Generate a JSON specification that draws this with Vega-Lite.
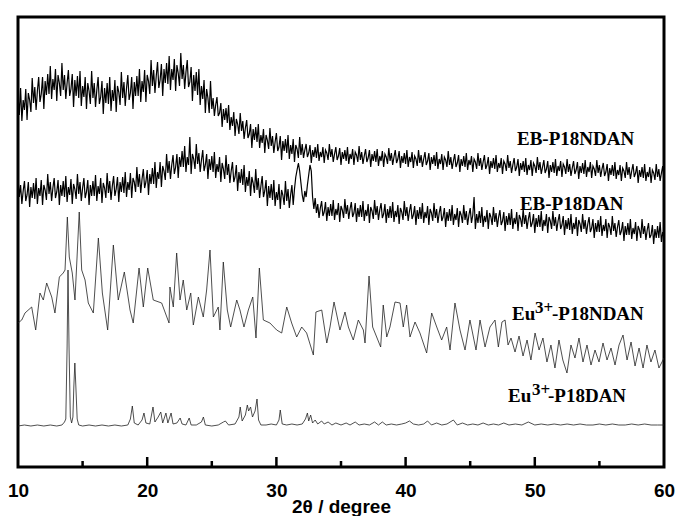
{
"$schema": "https://vega.github.io/schema/vega-lite/v6.json",
"width": 646, "height": 450,
"autosize": {"type": "none"},
"padding": {"left": 18, "top": 17, "right": 13, "bottom": 49},
"background": "white",
"config": {
  "view": {"stroke": "black", "strokeWidth": 3},
  "axis": {"domain": false, "grid": false}
},
"datasets": {
"eb": [
{"x":10.0,"a":372,"b":290},{"x":10.1,"a":352,"b":270},{"x":10.2,"a":379,"b":282},{"x":10.3,"a":346,"b":263},{"x":10.4,"a":367,"b":276},{"x":10.5,"a":357,"b":286},{"x":10.6,"a":378,"b":266},{"x":10.7,"a":347,"b":272},{"x":10.8,"a":374,"b":285},{"x":10.9,"a":367,"b":260},{"x":11.0,"a":355,"b":280},{"x":11.1,"a":389,"b":269},{"x":11.2,"a":364,"b":284},{"x":11.3,"a":380,"b":268},{"x":11.4,"a":357,"b":289},{"x":11.5,"a":376,"b":263},{"x":11.6,"a":390,"b":279},{"x":11.7,"a":365,"b":271},{"x":11.8,"a":373,"b":287},{"x":11.9,"a":390,"b":262},{"x":12.0,"a":358,"b":282},{"x":12.1,"a":386,"b":277},{"x":12.2,"a":372,"b":267},
{"x":12.3,"a":393,"b":293},{"x":12.4,"a":373,"b":273},{"x":12.5,"a":401,"b":285},{"x":12.6,"a":368,"b":266},{"x":12.7,"a":388,"b":279},{"x":12.8,"a":377,"b":289},{"x":12.9,"a":398,"b":269},{"x":13.0,"a":366,"b":275},{"x":13.1,"a":392,"b":287},{"x":13.2,"a":384,"b":262},{"x":13.3,"a":371,"b":282},{"x":13.4,"a":404,"b":271},{"x":13.5,"a":377,"b":286},{"x":13.6,"a":392,"b":270},{"x":13.7,"a":368,"b":291},{"x":13.8,"a":384,"b":265},{"x":13.9,"a":397,"b":280},{"x":14.0,"a":371,"b":272},{"x":14.1,"a":378,"b":288},{"x":14.2,"a":393,"b":263},{"x":14.3,"a":360,"b":283},{"x":14.4,"a":387,"b":278},{"x":14.5,"a":371,"b":268},
{"x":14.6,"a":391,"b":293},{"x":14.7,"a":369,"b":273},{"x":14.8,"a":396,"b":285},{"x":14.9,"a":361,"b":266},{"x":15.0,"a":381,"b":279},{"x":15.1,"a":370,"b":289},{"x":15.2,"a":390,"b":269},{"x":15.3,"a":358,"b":275},{"x":15.4,"a":384,"b":287},{"x":15.5,"a":376,"b":262},{"x":15.6,"a":363,"b":282},{"x":15.7,"a":396,"b":271},{"x":15.8,"a":369,"b":286},{"x":15.9,"a":384,"b":271},{"x":16.0,"a":360,"b":292},{"x":16.1,"a":377,"b":266},{"x":16.2,"a":390,"b":281},{"x":16.3,"a":363,"b":273},{"x":16.4,"a":370,"b":289},{"x":16.5,"a":386,"b":264},{"x":16.6,"a":353,"b":284},{"x":16.7,"a":379,"b":279},{"x":16.8,"a":364,"b":269},
{"x":16.9,"a":384,"b":294},{"x":17.0,"a":363,"b":274},{"x":17.1,"a":390,"b":286},{"x":17.2,"a":356,"b":267},{"x":17.3,"a":377,"b":281},{"x":17.4,"a":366,"b":291},{"x":17.5,"a":387,"b":271},{"x":17.6,"a":355,"b":278},{"x":17.7,"a":381,"b":290},{"x":17.8,"a":375,"b":265},{"x":17.9,"a":362,"b":285},{"x":18.0,"a":395,"b":275},{"x":18.1,"a":369,"b":290},{"x":18.2,"a":385,"b":274},{"x":18.3,"a":361,"b":295},{"x":18.4,"a":379,"b":270},{"x":18.5,"a":392,"b":285},{"x":18.6,"a":367,"b":277},{"x":18.7,"a":374,"b":294},{"x":18.8,"a":390,"b":269},{"x":18.9,"a":358,"b":289},{"x":19.0,"a":385,"b":285},{"x":19.1,"a":371,"b":275},
{"x":19.2,"a":391,"b":300},{"x":19.3,"a":371,"b":280},{"x":19.4,"a":398,"b":293},{"x":19.5,"a":365,"b":274},{"x":19.6,"a":386,"b":288},{"x":19.7,"a":375,"b":298},{"x":19.8,"a":397,"b":279},{"x":19.9,"a":365,"b":285},{"x":20.0,"a":392,"b":297},{"x":20.1,"a":386,"b":272},{"x":20.2,"a":373,"b":293},{"x":20.3,"a":407,"b":283},{"x":20.4,"a":381,"b":299},{"x":20.5,"a":397,"b":283},{"x":20.6,"a":374,"b":305},{"x":20.7,"a":391,"b":279},{"x":20.8,"a":405,"b":295},{"x":20.9,"a":379,"b":288},{"x":21.0,"a":387,"b":305},{"x":21.1,"a":403,"b":280},{"x":21.2,"a":371,"b":301},{"x":21.3,"a":398,"b":296},{"x":21.4,"a":384,"b":287},
{"x":21.5,"a":404,"b":313},{"x":21.6,"a":383,"b":294},{"x":21.7,"a":411,"b":306},{"x":21.8,"a":377,"b":288},{"x":21.9,"a":398,"b":302},{"x":22.0,"a":387,"b":312},{"x":22.1,"a":408,"b":293},{"x":22.2,"a":376,"b":300},{"x":22.3,"a":402,"b":313},{"x":22.4,"a":394,"b":289},{"x":22.5,"a":381,"b":310},{"x":22.6,"a":414,"b":300},{"x":22.7,"a":388,"b":316},{"x":22.8,"a":402,"b":300},{"x":22.9,"a":378,"b":321},{"x":23.0,"a":395,"b":295},{"x":23.1,"a":407,"b":310},{"x":23.2,"a":380,"b":302},{"x":23.3,"a":385,"b":330},{"x":23.4,"a":400,"b":293},{"x":23.5,"a":366,"b":313},{"x":23.6,"a":392,"b":308},{"x":23.7,"a":376,"b":298},
{"x":23.8,"a":395,"b":323},{"x":23.9,"a":372,"b":303},{"x":24.0,"a":398,"b":314},{"x":24.1,"a":362,"b":295},{"x":24.2,"a":381,"b":307},{"x":24.3,"a":368,"b":317},{"x":24.4,"a":387,"b":296},{"x":24.5,"a":354,"b":302},{"x":24.6,"a":378,"b":313},{"x":24.7,"a":369,"b":288},{"x":24.8,"a":354,"b":308},{"x":24.9,"a":386,"b":297},{"x":25.0,"a":358,"b":311},{"x":25.1,"a":369,"b":295},{"x":25.2,"a":351,"b":315},{"x":25.3,"a":362,"b":289},{"x":25.4,"a":370,"b":303},{"x":25.5,"a":351,"b":295},{"x":25.6,"a":354,"b":310},{"x":25.7,"a":364,"b":285},{"x":25.8,"a":340,"b":304},{"x":25.9,"a":358,"b":298},{"x":26.0,"a":347,"b":288},
{"x":26.1,"a":359,"b":312},{"x":26.2,"a":344,"b":292},{"x":26.3,"a":362,"b":303},{"x":26.4,"a":337,"b":284},{"x":26.5,"a":350,"b":296},{"x":26.6,"a":341,"b":305},{"x":26.7,"a":355,"b":285},{"x":26.8,"a":331,"b":290},{"x":26.9,"a":348,"b":302},{"x":27.0,"a":343,"b":276},{"x":27.1,"a":333,"b":295},{"x":27.2,"a":354,"b":284},{"x":27.3,"a":336,"b":298},{"x":27.4,"a":346,"b":282},{"x":27.5,"a":328,"b":302},{"x":27.6,"a":339,"b":275},{"x":27.7,"a":347,"b":290},{"x":27.8,"a":329,"b":281},{"x":27.9,"a":333,"b":296},{"x":28.0,"a":343,"b":271},{"x":28.1,"a":319,"b":290},{"x":28.2,"a":338,"b":284},{"x":28.3,"a":327,"b":274},
{"x":28.4,"a":340,"b":298},{"x":28.5,"a":325,"b":277},{"x":28.6,"a":343,"b":289},{"x":28.7,"a":319,"b":269},{"x":28.8,"a":332,"b":281},{"x":28.9,"a":324,"b":291},{"x":29.0,"a":338,"b":270},{"x":29.1,"a":314,"b":276},{"x":29.2,"a":332,"b":287},{"x":29.3,"a":327,"b":261},{"x":29.4,"a":318,"b":281},{"x":29.5,"a":339,"b":269},{"x":29.6,"a":321,"b":283},{"x":29.7,"a":331,"b":267},{"x":29.8,"a":314,"b":287},{"x":29.9,"a":325,"b":261},{"x":30.0,"a":334,"b":275},{"x":30.1,"a":316,"b":267},{"x":30.2,"a":320,"b":283},{"x":30.3,"a":331,"b":258},{"x":30.4,"a":307,"b":277},{"x":30.5,"a":326,"b":272},{"x":30.6,"a":316,"b":262},
{"x":30.7,"a":328,"b":286},{"x":30.8,"a":314,"b":266},{"x":30.9,"a":332,"b":278},{"x":31.0,"a":308,"b":259},{"x":31.1,"a":322,"b":272},{"x":31.2,"a":313,"b":282},{"x":31.3,"a":328,"b":262},{"x":31.4,"a":305,"b":278},{"x":31.5,"a":322,"b":290},{"x":31.6,"a":318,"b":297},{"x":31.7,"a":309,"b":304},{"x":31.8,"a":330,"b":296},{"x":31.9,"a":312,"b":284},{"x":32.0,"a":323,"b":272},{"x":32.1,"a":309,"b":265},{"x":32.2,"a":317,"b":276},{"x":32.3,"a":323,"b":270},{"x":32.4,"a":310,"b":282},{"x":32.5,"a":314,"b":292},{"x":32.6,"a":322,"b":302},{"x":32.7,"a":304,"b":296},{"x":32.8,"a":317,"b":270},{"x":32.9,"a":310,"b":258},
{"x":33.0,"a":320,"b":269},{"x":33.1,"a":309,"b":254},{"x":33.2,"a":323,"b":263},{"x":33.3,"a":306,"b":249},{"x":33.4,"a":315,"b":259},{"x":33.5,"a":310,"b":266},{"x":33.6,"a":320,"b":251},{"x":33.7,"a":304,"b":255},{"x":33.8,"a":317,"b":265},{"x":33.9,"a":314,"b":246},{"x":34.0,"a":307,"b":260},{"x":34.1,"a":323,"b":251},{"x":34.2,"a":310,"b":263},{"x":34.3,"a":318,"b":251},{"x":34.4,"a":305,"b":267},{"x":34.5,"a":313,"b":247},{"x":34.6,"a":320,"b":258},{"x":34.7,"a":307,"b":252},{"x":34.8,"a":311,"b":264},{"x":34.9,"a":319,"b":245},{"x":35.0,"a":302,"b":261},{"x":35.1,"a":315,"b":257},{"x":35.2,"a":308,"b":249},
{"x":35.3,"a":317,"b":268},{"x":35.4,"a":306,"b":253},{"x":35.5,"a":320,"b":262},{"x":35.6,"a":303,"b":248},{"x":35.7,"a":313,"b":258},{"x":35.8,"a":308,"b":265},{"x":35.9,"a":318,"b":250},{"x":36.0,"a":302,"b":254},{"x":36.1,"a":315,"b":264},{"x":36.2,"a":312,"b":245},{"x":36.3,"a":305,"b":259},{"x":36.4,"a":321,"b":250},{"x":36.5,"a":307,"b":262},{"x":36.6,"a":315,"b":250},{"x":36.7,"a":303,"b":266},{"x":36.8,"a":311,"b":246},{"x":36.9,"a":318,"b":257},{"x":37.0,"a":305,"b":251},{"x":37.1,"a":309,"b":263},{"x":37.2,"a":317,"b":244},{"x":37.3,"a":300,"b":260},{"x":37.4,"a":313,"b":256},{"x":37.5,"a":306,"b":248},
{"x":37.6,"a":316,"b":267},{"x":37.7,"a":305,"b":252},{"x":37.8,"a":318,"b":261},{"x":37.9,"a":301,"b":247},{"x":38.0,"a":311,"b":257},{"x":38.1,"a":306,"b":264},{"x":38.2,"a":316,"b":249},{"x":38.3,"a":300,"b":253},{"x":38.4,"a":313,"b":263},{"x":38.5,"a":310,"b":244},{"x":38.6,"a":303,"b":258},{"x":38.7,"a":319,"b":249},{"x":38.8,"a":306,"b":261},{"x":38.9,"a":314,"b":249},{"x":39.0,"a":302,"b":265},{"x":39.1,"a":310,"b":245},{"x":39.2,"a":317,"b":256},{"x":39.3,"a":304,"b":250},{"x":39.4,"a":308,"b":262},{"x":39.5,"a":316,"b":243},{"x":39.6,"a":299,"b":259},{"x":39.7,"a":311,"b":255},{"x":39.8,"a":304,"b":247},
{"x":39.9,"a":314,"b":266},{"x":40.0,"a":303,"b":251},{"x":40.1,"a":317,"b":260},{"x":40.2,"a":300,"b":246},{"x":40.3,"a":310,"b":256},{"x":40.4,"a":305,"b":263},{"x":40.5,"a":315,"b":248},{"x":40.6,"a":299,"b":252},{"x":40.7,"a":311,"b":261},{"x":40.8,"a":308,"b":242},{"x":40.9,"a":301,"b":257},{"x":41.0,"a":317,"b":248},{"x":41.1,"a":304,"b":260},{"x":41.2,"a":312,"b":248},{"x":41.3,"a":300,"b":264},{"x":41.4,"a":308,"b":244},{"x":41.5,"a":315,"b":255},{"x":41.6,"a":302,"b":249},{"x":41.7,"a":306,"b":261},{"x":41.8,"a":314,"b":242},{"x":41.9,"a":297,"b":258},{"x":42.0,"a":310,"b":254},{"x":42.1,"a":303,"b":246},
{"x":42.2,"a":312,"b":264},{"x":42.3,"a":301,"b":249},{"x":42.4,"a":315,"b":258},{"x":42.5,"a":298,"b":244},{"x":42.6,"a":308,"b":254},{"x":42.7,"a":303,"b":261},{"x":42.8,"a":313,"b":246},{"x":42.9,"a":297,"b":250},{"x":43.0,"a":310,"b":259},{"x":43.1,"a":307,"b":240},{"x":43.2,"a":300,"b":255},{"x":43.3,"a":316,"b":246},{"x":43.4,"a":302,"b":258},{"x":43.5,"a":310,"b":246},{"x":43.6,"a":298,"b":262},{"x":43.7,"a":306,"b":242},{"x":43.8,"a":313,"b":253},{"x":43.9,"a":300,"b":247},{"x":44.0,"a":304,"b":259},{"x":44.1,"a":312,"b":240},{"x":44.2,"a":295,"b":256},{"x":44.3,"a":308,"b":252},{"x":44.4,"a":301,"b":244},
{"x":44.5,"a":311,"b":262},{"x":44.6,"a":300,"b":247},{"x":44.7,"a":314,"b":256},{"x":44.8,"a":297,"b":242},{"x":44.9,"a":307,"b":252},{"x":45.0,"a":302,"b":259},{"x":45.1,"a":311,"b":244},{"x":45.2,"a":295,"b":252},{"x":45.3,"a":308,"b":270},{"x":45.4,"a":305,"b":238},{"x":45.5,"a":298,"b":253},{"x":45.6,"a":314,"b":244},{"x":45.7,"a":301,"b":256},{"x":45.8,"a":309,"b":244},{"x":45.9,"a":297,"b":260},{"x":46.0,"a":305,"b":240},{"x":46.1,"a":312,"b":251},{"x":46.2,"a":298,"b":245},{"x":46.3,"a":302,"b":257},{"x":46.4,"a":310,"b":238},{"x":46.5,"a":293,"b":254},{"x":46.6,"a":306,"b":250},{"x":46.7,"a":299,"b":242},
{"x":46.8,"a":309,"b":260},{"x":46.9,"a":298,"b":245},{"x":47.0,"a":312,"b":254},{"x":47.1,"a":295,"b":240},{"x":47.2,"a":304,"b":250},{"x":47.3,"a":299,"b":257},{"x":47.4,"a":309,"b":242},{"x":47.5,"a":293,"b":246},{"x":47.6,"a":306,"b":255},{"x":47.7,"a":303,"b":236},{"x":47.8,"a":296,"b":251},{"x":47.9,"a":312,"b":242},{"x":48.0,"a":299,"b":254},{"x":48.1,"a":306,"b":242},{"x":48.2,"a":294,"b":258},{"x":48.3,"a":302,"b":238},{"x":48.4,"a":309,"b":249},{"x":48.5,"a":296,"b":243},{"x":48.6,"a":300,"b":255},{"x":48.7,"a":308,"b":236},{"x":48.8,"a":291,"b":252},{"x":48.9,"a":304,"b":248},{"x":49.0,"a":297,"b":240},
{"x":49.1,"a":306,"b":258},{"x":49.2,"a":295,"b":243},{"x":49.3,"a":309,"b":252},{"x":49.4,"a":292,"b":238},{"x":49.5,"a":302,"b":248},{"x":49.6,"a":297,"b":255},{"x":49.7,"a":307,"b":240},{"x":49.8,"a":291,"b":244},{"x":49.9,"a":304,"b":253},{"x":50.0,"a":301,"b":234},{"x":50.1,"a":294,"b":249},{"x":50.2,"a":310,"b":240},{"x":50.3,"a":297,"b":252},{"x":50.4,"a":305,"b":240},{"x":50.5,"a":293,"b":256},{"x":50.6,"a":300,"b":236},{"x":50.7,"a":307,"b":247},{"x":50.8,"a":294,"b":241},{"x":50.9,"a":298,"b":253},{"x":51.0,"a":306,"b":234},{"x":51.1,"a":289,"b":250},{"x":51.2,"a":302,"b":246},{"x":51.3,"a":295,"b":238},
{"x":51.4,"a":305,"b":256},{"x":51.5,"a":294,"b":241},{"x":51.6,"a":308,"b":250},{"x":51.7,"a":291,"b":236},{"x":51.8,"a":301,"b":246},{"x":51.9,"a":296,"b":253},{"x":52.0,"a":306,"b":238},{"x":52.1,"a":290,"b":242},{"x":52.2,"a":303,"b":251},{"x":52.3,"a":300,"b":232},{"x":52.4,"a":293,"b":247},{"x":52.5,"a":308,"b":238},{"x":52.6,"a":295,"b":249},{"x":52.7,"a":303,"b":237},{"x":52.8,"a":291,"b":253},{"x":52.9,"a":299,"b":233},{"x":53.0,"a":306,"b":244},{"x":53.1,"a":293,"b":238},{"x":53.2,"a":297,"b":250},{"x":53.3,"a":305,"b":231},{"x":53.4,"a":288,"b":247},{"x":53.5,"a":301,"b":243},{"x":53.6,"a":294,"b":235},
{"x":53.7,"a":304,"b":253},{"x":53.8,"a":293,"b":238},{"x":53.9,"a":307,"b":247},{"x":54.0,"a":290,"b":233},{"x":54.1,"a":300,"b":243},{"x":54.2,"a":295,"b":250},{"x":54.3,"a":305,"b":235},{"x":54.4,"a":289,"b":239},{"x":54.5,"a":301,"b":248},{"x":54.6,"a":298,"b":229},{"x":54.7,"a":291,"b":244},{"x":54.8,"a":307,"b":235},{"x":54.9,"a":294,"b":247},{"x":55.0,"a":302,"b":235},{"x":55.1,"a":290,"b":251},{"x":55.2,"a":298,"b":231},{"x":55.3,"a":304,"b":242},{"x":55.4,"a":291,"b":236},{"x":55.5,"a":295,"b":248},{"x":55.6,"a":303,"b":229},{"x":55.7,"a":286,"b":244},{"x":55.8,"a":299,"b":240},{"x":55.9,"a":292,"b":232},
{"x":56.0,"a":302,"b":251},{"x":56.1,"a":291,"b":236},{"x":56.2,"a":305,"b":244},{"x":56.3,"a":288,"b":230},{"x":56.4,"a":297,"b":240},{"x":56.5,"a":292,"b":247},{"x":56.6,"a":302,"b":232},{"x":56.7,"a":286,"b":236},{"x":56.8,"a":299,"b":245},{"x":56.9,"a":296,"b":226},{"x":57.0,"a":289,"b":241},{"x":57.1,"a":305,"b":232},{"x":57.2,"a":292,"b":244},{"x":57.3,"a":300,"b":232},{"x":57.4,"a":288,"b":248},{"x":57.5,"a":296,"b":228},{"x":57.6,"a":303,"b":239},{"x":57.7,"a":290,"b":233},{"x":57.8,"a":294,"b":245},{"x":57.9,"a":301,"b":226},{"x":58.0,"a":284,"b":241},{"x":58.1,"a":297,"b":237},{"x":58.2,"a":290,"b":229},
{"x":58.3,"a":300,"b":248},{"x":58.4,"a":289,"b":233},{"x":58.5,"a":303,"b":241},{"x":58.6,"a":286,"b":227},{"x":58.7,"a":295,"b":237},{"x":58.8,"a":290,"b":244},{"x":58.9,"a":300,"b":229},{"x":59.0,"a":284,"b":232},{"x":59.1,"a":297,"b":242},{"x":59.2,"a":294,"b":223},{"x":59.3,"a":287,"b":238},{"x":59.4,"a":303,"b":229},{"x":59.5,"a":290,"b":241},{"x":59.6,"a":298,"b":229},{"x":59.7,"a":286,"b":245},{"x":59.8,"a":294,"b":225},{"x":59.9,"a":301,"b":235},{"x":60.0,"a":287,"b":229}
],
"t3": [{"x":10,"y":144},{"x":10.29,"y":147},{"x":10.54,"y":154},{"x":11.06,"y":160},{"x":11.37,"y":137},{"x":11.7,"y":174},{"x":11.96,"y":167},{"x":12.22,"y":184},{"x":12.61,"y":170},{"x":12.86,"y":154},{"x":13.2,"y":190},{"x":13.5,"y":194},{"x":13.64,"y":197},{"x":13.82,"y":250},{"x":13.97,"y":210},{"x":14.2,"y":194},{"x":14.41,"y":167},{"x":14.74,"y":255},{"x":14.93,"y":197},{"x":15.19,"y":187},{"x":15.44,"y":164},{"x":15.83,"y":154},{"x":16.22,"y":229},{"x":16.53,"y":174},{"x":16.94,"y":137},{"x":17.38,"y":222},{"x":17.76,"y":167},{"x":18.23,"y":195},{"x":18.67,"y":157},{"x":18.92,"y":144},{"x":19.37,"y":199},{"x":19.7,"y":160},{"x":20.04,"y":199},{"x":20.47,"y":167},{"x":21.12,"y":164},{"x":21.69,"y":144},{"x":21.76,"y":180},{"x":22.02,"y":160},{"x":22.28,"y":214},{"x":22.54,"y":167},{"x":22.79,"y":187},{"x":23.06,"y":157},{"x":23.37,"y":174},{"x":23.57,"y":142},{"x":23.96,"y":170},{"x":24.34,"y":150},{"x":24.6,"y":177},{"x":24.86,"y":217},{"x":25.12,"y":150},{"x":25.5,"y":160},{"x":25.63,"y":137},{"x":25.89,"y":205},{"x":26.2,"y":157},{"x":26.46,"y":140},{"x":26.93,"y":167},{"x":27.18,"y":157},{"x":27.49,"y":140},{"x":27.83,"y":157},{"x":28.17,"y":170},{"x":28.42,"y":129},{"x":28.68,"y":199},{"x":28.99,"y":147},{"x":29.5,"y":144},{"x":30.02,"y":137},{"x":30.41,"y":134},{"x":30.8,"y":160},{"x":31.18,"y":144},{"x":31.57,"y":130},{"x":31.96,"y":140},{"x":32.34,"y":134},{"x":32.86,"y":112},{"x":33.06,"y":155},{"x":33.51,"y":157},{"x":33.9,"y":124},{"x":34.15,"y":140},{"x":34.46,"y":165},{"x":34.92,"y":137},{"x":35.31,"y":155},{"x":35.57,"y":140},{"x":35.95,"y":127},{"x":36.34,"y":147},{"x":36.73,"y":137},{"x":36.86,"y":124},{"x":37.17,"y":191},{"x":37.45,"y":140},{"x":37.76,"y":130},{"x":38.07,"y":120},{"x":38.27,"y":162},{"x":38.54,"y":130},{"x":38.79,"y":140},{"x":39.18,"y":165},{"x":39.57,"y":164},{"x":39.82,"y":140},{"x":40.08,"y":162},{"x":40.34,"y":130},{"x":40.73,"y":145},{"x":41.11,"y":134},{"x":41.63,"y":114},{"x":42.02,"y":154},{"x":42.41,"y":140},{"x":42.79,"y":127},{"x":43.18,"y":140},{"x":43.44,"y":117},{"x":43.82,"y":164},{"x":44.21,"y":137},{"x":44.6,"y":117},{"x":44.98,"y":147},{"x":45.45,"y":117},{"x":45.76,"y":147},{"x":46.15,"y":120},{"x":46.53,"y":140},{"x":46.92,"y":147},{"x":47.18,"y":120},{"x":47.46,"y":145},{"x":47.7,"y":147},{"x":47.93,"y":122},{"x":48.16,"y":129},{"x":48.47,"y":115},{"x":48.78,"y":131},{"x":49.09,"y":111},{"x":49.4,"y":127},{"x":49.7,"y":107},{"x":50.02,"y":134},{"x":50.33,"y":117},{"x":50.63,"y":129},{"x":50.94,"y":105},{"x":51.25,"y":122},{"x":51.56,"y":99},{"x":51.87,"y":127},{"x":52.17,"y":107},{"x":52.49,"y":94},{"x":52.8,"y":122},{"x":53.11,"y":109},{"x":53.42,"y":129},{"x":53.73,"y":105},{"x":54.04,"y":122},{"x":54.35,"y":102},{"x":54.66,"y":117},{"x":54.97,"y":105},{"x":55.28,"y":124},{"x":55.59,"y":107},{"x":55.9,"y":119},{"x":56.21,"y":102},{"x":56.52,"y":122},{"x":56.83,"y":132},{"x":57.14,"y":107},{"x":57.45,"y":125},{"x":57.76,"y":101},{"x":58.07,"y":119},{"x":58.38,"y":99},{"x":58.68,"y":122},{"x":58.99,"y":105},{"x":59.3,"y":117},{"x":59.61,"y":99},{"x":60,"y":109}],
"t4": [{"x":10,"y":41},{"x":10.5,"y":42},{"x":11,"y":41},{"x":11.5,"y":42},{"x":12,"y":41},{"x":12.5,"y":42},{"x":13,"y":41},{"x":13.4,"y":42},{"x":13.6,"y":45},{"x":13.7,"y":48},{"x":13.8,"y":120},{"x":13.87,"y":197},{"x":13.95,"y":120},{"x":14.05,"y":50},{"x":14.15,"y":44},{"x":14.25,"y":50},{"x":14.32,"y":80},{"x":14.4,"y":104},{"x":14.48,"y":80},{"x":14.58,"y":48},{"x":14.7,"y":42},{"x":15,"y":41},{"x":15.5,"y":42},{"x":16,"y":41},{"x":16.5,"y":42},{"x":17,"y":41},{"x":17.5,"y":42},{"x":18,"y":41},{"x":18.5,"y":42},{"x":18.7,"y":48},{"x":18.85,"y":61},{"x":19,"y":44},{"x":19.3,"y":42},{"x":19.6,"y":47},{"x":19.75,"y":54},{"x":19.9,"y":44},{"x":20.2,"y":43},{"x":20.45,"y":60},{"x":20.6,"y":45},{"x":20.85,"y":50},{"x":21.05,"y":55},{"x":21.2,"y":44},{"x":21.45,"y":54},{"x":21.6,"y":44},{"x":21.85,"y":54},{"x":22,"y":43},{"x":22.3,"y":44},{"x":22.55,"y":49},{"x":22.7,"y":43},{"x":23,"y":42},{"x":23.25,"y":49},{"x":23.4,"y":42},{"x":23.8,"y":42},{"x":24.2,"y":45},{"x":24.35,"y":50},{"x":24.5,"y":42},{"x":25,"y":41},{"x":25.5,"y":42},{"x":25.9,"y":45},{"x":26.05,"y":46},{"x":26.3,"y":42},{"x":26.8,"y":43},{"x":27.1,"y":50},{"x":27.2,"y":60},{"x":27.35,"y":46},{"x":27.6,"y":52},{"x":27.75,"y":62},{"x":27.85,"y":56},{"x":28,"y":60},{"x":28.15,"y":50},{"x":28.35,"y":56},{"x":28.5,"y":68},{"x":28.62,"y":47},{"x":28.8,"y":42},{"x":29.2,"y":42},{"x":29.6,"y":43},{"x":30,"y":42},{"x":30.2,"y":47},{"x":30.3,"y":57},{"x":30.45,"y":43},{"x":30.8,"y":42},{"x":31.2,"y":43},{"x":31.6,"y":42},{"x":32,"y":43},{"x":32.25,"y":48},{"x":32.4,"y":54},{"x":32.5,"y":46},{"x":32.65,"y":52},{"x":32.8,"y":44},{"x":33,"y":47},{"x":33.2,"y":43},{"x":33.5,"y":46},{"x":33.7,"y":43},{"x":34,"y":45},{"x":34.3,"y":42},{"x":34.6,"y":44},{"x":35,"y":42},{"x":35.4,"y":44},{"x":35.7,"y":42},{"x":36.1,"y":45},{"x":36.4,"y":42},{"x":36.8,"y":43},{"x":37.2,"y":42},{"x":37.6,"y":45},{"x":37.9,"y":42},{"x":38.2,"y":45},{"x":38.5,"y":42},{"x":38.9,"y":43},{"x":39.3,"y":42},{"x":39.7,"y":43},{"x":40,"y":44},{"x":40.3,"y":46},{"x":40.6,"y":43},{"x":41,"y":42},{"x":41.4,"y":43},{"x":41.7,"y":46},{"x":42,"y":42},{"x":42.4,"y":44},{"x":42.8,"y":42},{"x":43.2,"y":43},{"x":43.7,"y":47},{"x":44,"y":42},{"x":44.4,"y":44},{"x":44.8,"y":42},{"x":45.2,"y":43},{"x":45.6,"y":42},{"x":46,"y":44},{"x":46.4,"y":42},{"x":46.8,"y":43},{"x":47.2,"y":42},{"x":47.6,"y":44},{"x":48,"y":42},{"x":48.5,"y":43},{"x":49,"y":42},{"x":49.5,"y":45},{"x":50,"y":42},{"x":50.5,"y":43},{"x":51,"y":42},{"x":51.5,"y":43},{"x":52,"y":42},{"x":52.5,"y":43},{"x":53,"y":42},{"x":53.5,"y":43},{"x":54,"y":42},{"x":54.5,"y":42},{"x":55,"y":43},{"x":55.5,"y":42},{"x":56,"y":43},{"x":56.5,"y":42},{"x":57,"y":42},{"x":57.5,"y":43},{"x":58,"y":42},{"x":58.5,"y":43},{"x":59,"y":42},{"x":59.5,"y":42},{"x":60,"y":42}],
"major": [{"x":20},{"x":30},{"x":40},{"x":50}],
"minor": [{"x":15},{"x":25},{"x":35},{"x":45},{"x":55}],
"labels": [{"x":48.62,"y":322,"t":"EB-P18NDAN"},{"x":48.85,"y":257,"t":"EB-P18DAN"},{"x":48.24,"y":147,"t":"Eu"},{"x":51.33,"y":147,"t":"-P18NDAN"},{"x":47.93,"y":65,"t":"Eu"},{"x":51.02,"y":65,"t":"-P18DAN"}],
"sups": [{"x":50.02,"y":154,"t":"3+"},{"x":49.78,"y":72,"t":"3+"}]
},
"layer": [
  {"data": {"name": "eb"}, "mark": {"type": "line", "stroke": "black", "strokeWidth": 1.2, "clip": true},
   "encoding": {
     "x": {"field": "x", "type": "quantitative", "scale": {"domain": [10, 60], "nice": false, "zero": false},
           "axis": {"orient": "bottom", "values": [10, 20, 30, 40, 50, 60], "ticks": false, "labelFlush": false, "labelBound": false, "labelOverlap": false,
                    "labelFont": "Liberation Sans", "labelFontWeight": "bold", "labelFontSize": 19, "labelColor": "black", "labelPadding": 14,
                    "title": "2θ / degree", "titleFont": "Liberation Sans", "titleFontWeight": "bold", "titleFontSize": 19, "titleColor": "black", "titlePadding": -3}},
     "y": {"field": "a", "type": "quantitative", "scale": {"domain": [0, 450], "nice": false, "zero": false}, "axis": null}}},
  {"data": {"name": "eb"}, "mark": {"type": "line", "stroke": "black", "strokeWidth": 1.2, "clip": true},
   "encoding": {
     "x": {"field": "x", "type": "quantitative"},
     "y": {"field": "b", "type": "quantitative"}}},
  {"data": {"name": "t3"}, "mark": {"type": "line", "stroke": "#222222", "strokeWidth": 0.8, "clip": true},
   "encoding": {
     "x": {"field": "x", "type": "quantitative"},
     "y": {"field": "y", "type": "quantitative"}}},
  {"data": {"name": "t4"}, "mark": {"type": "line", "stroke": "#222222", "strokeWidth": 0.8, "clip": true},
   "encoding": {
     "x": {"field": "x", "type": "quantitative"},
     "y": {"field": "y", "type": "quantitative"}}},
  {"data": {"name": "major"}, "mark": {"type": "rule", "stroke": "black", "strokeWidth": 2.5},
   "encoding": {
     "x": {"field": "x", "type": "quantitative"},
     "y": {"datum": 0, "type": "quantitative"},
     "y2": {"datum": 10}}},
  {"data": {"name": "minor"}, "mark": {"type": "rule", "stroke": "black", "strokeWidth": 2.5},
   "encoding": {
     "x": {"field": "x", "type": "quantitative"},
     "y": {"datum": 0, "type": "quantitative"},
     "y2": {"datum": 6}}},
  {"data": {"name": "labels"}, "mark": {"type": "text", "align": "left", "baseline": "alphabetic", "font": "Liberation Serif", "fontWeight": "bold", "fontSize": 19, "color": "black"},
   "encoding": {
     "x": {"field": "x", "type": "quantitative"},
     "y": {"field": "y", "type": "quantitative"},
     "text": {"field": "t"}}},
  {"data": {"name": "sups"}, "mark": {"type": "text", "align": "left", "baseline": "alphabetic", "font": "Liberation Serif", "fontWeight": "bold", "fontSize": 17, "color": "black"},
   "encoding": {
     "x": {"field": "x", "type": "quantitative"},
     "y": {"field": "y", "type": "quantitative"},
     "text": {"field": "t"}}}
]
}
